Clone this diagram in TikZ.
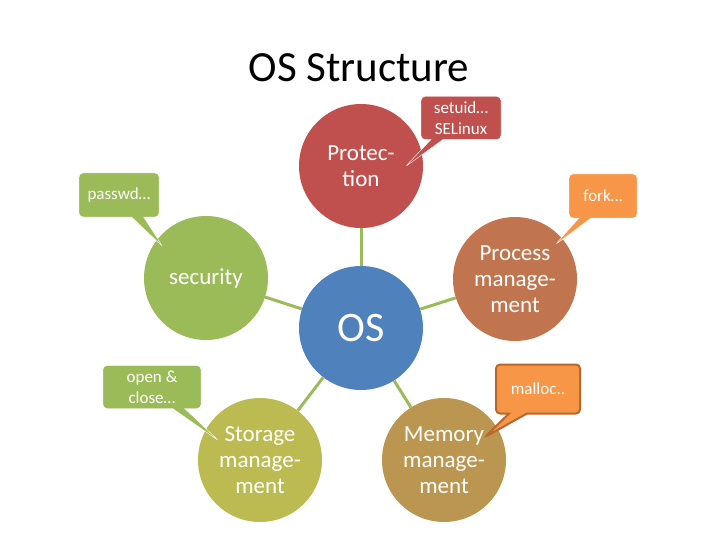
\documentclass[tikz,border=0pt]{standalone}
\usepackage{fontspec}
\setmainfont{Carlito}
\usetikzlibrary{shapes.callouts}
\definecolor{protred}{HTML}{C0504D}
\definecolor{secgreen}{HTML}{9BBB59}
\definecolor{osblue}{HTML}{4F81BD}
\definecolor{procbrown}{HTML}{C0754E}
\definecolor{storolive}{HTML}{BBBB52}
\definecolor{memtan}{HTML}{BA9650}
\definecolor{noteorange}{HTML}{F79646}
\definecolor{noteborder}{HTML}{B8682C}

\begin{document}
\begin{tikzpicture}[x=1pt,y=-1pt,
        part/.style={circle, minimum size=124pt, inner sep=0pt, text=white, align=center,
            font=\fontsize{23}{26}\selectfont},
        link/.style={secgreen, line width=3pt},
        note/.style={rectangle callout, rounded corners=4pt, text=white, align=center,
            minimum height=44pt, inner sep=2pt, draw=white, font=\fontsize{17}{21}\selectfont,
            callout pointer width=12pt}]
        \useasboundingbox (0,0) rectangle (720,540);

        % Title
        \node[font=\fontsize{43}{50}\selectfont] (title) at (359,68) {OS Structure};

        % Parts of the system
        \node[part, fill=osblue, font=\fontsize{42}{48}\selectfont] (os) at (361,328) {OS};
        \node[part, fill=protred] (prot) at (361,166) {Protec-\\tion};
        \node[part, fill=secgreen] (sec) at (206,278) {security};
        \node[part, fill=procbrown] (proc) at (515,279) {Process\\manage-\\ment};
        \node[part, fill=storolive] (stor) at (260,460) {Storage\\manage-\\ment};
        \node[part, fill=memtan] (mem) at (444,460) {Memory\\manage-\\ment};

        % Links to the core
        \draw[link] (os) -- (prot);
        \draw[link] (os) -- (sec);
        \draw[link] (os) -- (proc);
        \draw[link] (os) -- (stor);
        \draw[link] (os) -- (mem);

        % Notes
        \coordinate (pwtip) at (163,247);
        \coordinate (sutip) at (405,167);
        \coordinate (fktip) at (555,245);
        \coordinate (optip) at (219,441);
        \coordinate (mltip) at (485,437);
        \node[note, fill=secgreen, minimum width=80pt, callout absolute pointer={(pwtip)}] (pw) at (119,195) {passwd…};
        \node[note, fill=protred, minimum width=80pt, minimum height=43pt, callout absolute pointer={(sutip)}] (su) at (461,118) {setuid…\\SELinux};
        \node[note, fill=noteorange, minimum width=68pt, callout absolute pointer={(fktip)}] (fk) at (603,196) {fork…};
        \node[note, fill=secgreen, minimum width=98pt, minimum height=43pt, callout absolute pointer={(optip)}] (op) at (152,387) {open \&\\close…};
        \node[note, fill=noteorange, draw=noteborder, line width=2pt, minimum width=84pt, minimum height=49pt,
            callout pointer width=18pt, callout absolute pointer={(mltip)}] (ml) at (538,389) {malloc..};
    \end{tikzpicture}
\end{document}
